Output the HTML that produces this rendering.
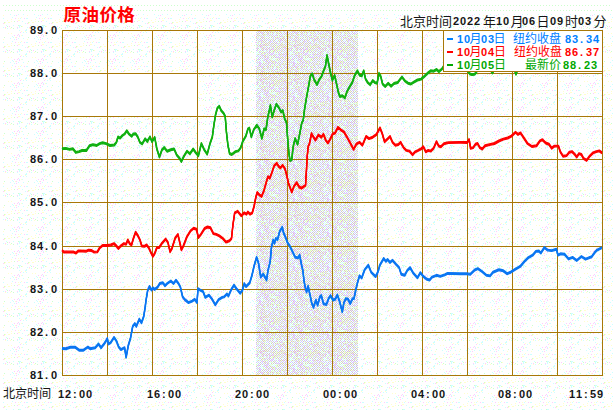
<!DOCTYPE html>
<html><head><meta charset="utf-8"><title>原油价格</title>
<style>html,body{margin:0;padding:0;overflow:hidden;background:#FCFDFB;font-family:"Liberation Sans",sans-serif}svg{display:block}</style></head>
<body>
<svg width="613" height="410" viewBox="0 0 613 410">
<defs><pattern id="dbg" width="24" height="24" patternUnits="userSpaceOnUse"><rect width="24" height="24" fill="#fff"/><path fill="#FFFFCC" d="M10 4h1v1h-1zM7 20h1v1h-1zM18 18h1v1h-1zM1 7h1v1h-1zM18 20h1v1h-1zM22 2h1v1h-1zM21 17h1v1h-1zM11 9h1v1h-1zM5 22h1v1h-1zM15 13h1v1h-1zM9 22h1v1h-1zM21 11h1v1h-1zM4 23h1v1h-1zM8 22h1v1h-1zM11 21h1v1h-1zM5 4h1v1h-1zM21 7h1v1h-1zM8 9h1v1h-1zM19 20h1v1h-1zM3 15h1v1h-1zM11 19h1v1h-1z"/><path fill="#CCFFFF" d="M20 1h1v1h-1zM6 1h1v1h-1zM13 13h1v1h-1zM13 1h1v1h-1zM17 4h1v1h-1zM3 18h1v1h-1zM19 6h1v1h-1zM10 14h1v1h-1zM2 18h1v1h-1zM23 14h1v1h-1zM19 2h1v1h-1zM22 11h1v1h-1zM18 14h1v1h-1zM2 8h1v1h-1zM22 21h1v1h-1zM1 23h1v1h-1zM20 18h1v1h-1zM19 3h1v1h-1zM1 6h1v1h-1zM12 12h1v1h-1zM2 5h1v1h-1zM12 17h1v1h-1zM7 4h1v1h-1zM2 6h1v1h-1zM19 1h1v1h-1zM19 11h1v1h-1zM3 3h1v1h-1zM14 15h1v1h-1zM23 8h1v1h-1z"/><path fill="#FFCCFF" d="M17 3h1v1h-1zM17 21h1v1h-1zM16 15h1v1h-1zM16 13h1v1h-1zM18 10h1v1h-1zM14 11h1v1h-1zM15 18h1v1h-1zM17 11h1v1h-1zM5 3h1v1h-1zM0 18h1v1h-1zM19 12h1v1h-1zM20 8h1v1h-1zM9 2h1v1h-1zM3 23h1v1h-1z"/><path fill="#CCFFCC" d="M18 1h1v1h-1zM7 2h1v1h-1zM13 4h1v1h-1zM11 3h1v1h-1zM21 2h1v1h-1zM4 13h1v1h-1zM4 22h1v1h-1zM14 21h1v1h-1z"/></pattern><pattern id="dsh" x="256" y="31" width="34" height="34" patternUnits="userSpaceOnUse" shape-rendering="crispEdges"><rect width="34" height="34" fill="#fff"/><path fill="#CCFFCC" d="M1 0h1v1h-1zM5 0h1v1h-1zM15 0h1v1h-1zM18 1h1v1h-1zM22 1h1v1h-1zM13 2h1v1h-1zM22 3h1v1h-1zM9 4h1v1h-1zM29 4h1v1h-1zM33 4h1v1h-1zM1 6h1v1h-1zM9 6h1v1h-1zM11 6h1v1h-1zM16 7h1v1h-1zM32 9h1v1h-1zM1 12h1v1h-1zM7 12h1v1h-1zM20 13h1v1h-1zM31 14h1v1h-1zM8 15h1v1h-1zM20 15h1v1h-1zM24 15h1v1h-1zM32 15h1v1h-1zM18 17h1v1h-1zM3 18h1v1h-1zM2 19h1v1h-1zM16 19h1v1h-1zM22 19h1v1h-1zM32 19h1v1h-1zM1 20h1v1h-1zM5 20h1v1h-1zM7 20h1v1h-1zM15 20h1v1h-1zM19 20h1v1h-1zM2 21h1v1h-1zM16 21h1v1h-1zM32 21h1v1h-1zM7 22h1v1h-1zM31 22h1v1h-1zM10 23h1v1h-1zM21 24h1v1h-1zM16 25h1v1h-1zM30 25h1v1h-1zM1 26h1v1h-1zM13 26h1v1h-1zM0 27h1v1h-1zM16 27h1v1h-1zM22 27h1v1h-1zM19 28h1v1h-1zM2 29h1v1h-1zM6 29h1v1h-1zM20 29h1v1h-1zM7 30h1v1h-1zM8 31h1v1h-1zM18 31h1v1h-1zM28 31h1v1h-1zM13 32h1v1h-1zM33 32h1v1h-1zM2 33h1v1h-1zM16 33h1v1h-1zM20 33h1v1h-1zM28 33h1v1h-1z"/><path fill="#FFCCFF" d="M2 0h1v1h-1zM4 0h1v1h-1zM14 0h1v1h-1zM24 0h1v1h-1zM28 0h1v1h-1zM5 1h1v1h-1zM17 1h1v1h-1zM6 2h1v1h-1zM12 2h1v1h-1zM30 2h1v1h-1zM20 4h1v1h-1zM25 5h1v1h-1zM0 6h1v1h-1zM6 6h1v1h-1zM17 7h1v1h-1zM21 7h1v1h-1zM27 7h1v1h-1zM24 8h1v1h-1zM5 9h1v1h-1zM25 9h1v1h-1zM14 10h1v1h-1zM24 10h1v1h-1zM5 11h1v1h-1zM20 12h1v1h-1zM7 13h1v1h-1zM4 14h1v1h-1zM8 14h1v1h-1zM24 14h1v1h-1zM5 15h1v1h-1zM4 16h1v1h-1zM28 16h1v1h-1zM1 17h1v1h-1zM7 17h1v1h-1zM13 17h1v1h-1zM17 17h1v1h-1zM29 17h1v1h-1zM10 18h1v1h-1zM14 18h1v1h-1zM16 18h1v1h-1zM32 18h1v1h-1zM1 19h1v1h-1zM7 19h1v1h-1zM13 19h1v1h-1zM18 20h1v1h-1zM32 20h1v1h-1zM3 21h1v1h-1zM13 21h1v1h-1zM17 21h1v1h-1zM31 21h1v1h-1zM8 22h1v1h-1zM16 22h1v1h-1zM30 22h1v1h-1zM15 23h1v1h-1zM23 23h1v1h-1zM27 23h1v1h-1zM6 24h1v1h-1zM30 24h1v1h-1zM9 25h1v1h-1zM29 25h1v1h-1zM12 26h1v1h-1zM20 26h1v1h-1zM22 26h1v1h-1zM11 27h1v1h-1zM23 27h1v1h-1zM2 28h1v1h-1zM8 28h1v1h-1zM10 28h1v1h-1zM32 28h1v1h-1zM7 29h1v1h-1zM10 30h1v1h-1zM3 31h1v1h-1zM13 31h1v1h-1zM19 31h1v1h-1zM33 31h1v1h-1zM4 32h1v1h-1zM12 32h1v1h-1zM16 32h1v1h-1zM3 33h1v1h-1zM29 33h1v1h-1zM33 33h1v1h-1z"/><path fill="#CCCCFF" d="M3 0h1v1h-1zM7 0h1v1h-1zM9 0h1v1h-1zM13 0h1v1h-1zM19 0h1v1h-1zM21 0h1v1h-1zM27 0h1v1h-1zM31 0h1v1h-1zM33 0h1v1h-1zM0 1h1v1h-1zM2 1h1v1h-1zM6 1h1v1h-1zM30 1h1v1h-1zM32 1h1v1h-1zM5 2h1v1h-1zM17 2h1v1h-1zM27 2h1v1h-1zM31 2h1v1h-1zM0 3h1v1h-1zM2 3h1v1h-1zM10 3h1v1h-1zM12 3h1v1h-1zM14 3h1v1h-1zM20 3h1v1h-1zM24 3h1v1h-1zM26 3h1v1h-1zM30 3h1v1h-1zM5 4h1v1h-1zM11 4h1v1h-1zM15 4h1v1h-1zM17 4h1v1h-1zM19 4h1v1h-1zM25 4h1v1h-1zM2 5h1v1h-1zM4 5h1v1h-1zM6 5h1v1h-1zM8 5h1v1h-1zM10 5h1v1h-1zM12 5h1v1h-1zM26 5h1v1h-1zM32 5h1v1h-1zM17 6h1v1h-1zM23 6h1v1h-1zM0 7h1v1h-1zM2 7h1v1h-1zM20 7h1v1h-1zM22 7h1v1h-1zM30 7h1v1h-1zM32 7h1v1h-1zM1 8h1v1h-1zM3 8h1v1h-1zM5 8h1v1h-1zM7 8h1v1h-1zM9 8h1v1h-1zM11 8h1v1h-1zM13 8h1v1h-1zM15 8h1v1h-1zM17 8h1v1h-1zM23 8h1v1h-1zM31 8h1v1h-1zM33 8h1v1h-1zM2 9h1v1h-1zM4 9h1v1h-1zM12 9h1v1h-1zM16 9h1v1h-1zM24 9h1v1h-1zM30 9h1v1h-1zM5 10h1v1h-1zM15 10h1v1h-1zM19 10h1v1h-1zM21 10h1v1h-1zM27 10h1v1h-1zM33 10h1v1h-1zM0 11h1v1h-1zM2 11h1v1h-1zM6 11h1v1h-1zM10 11h1v1h-1zM14 11h1v1h-1zM16 11h1v1h-1zM24 11h1v1h-1zM28 11h1v1h-1zM30 11h1v1h-1zM21 12h1v1h-1zM23 12h1v1h-1zM29 12h1v1h-1zM0 13h1v1h-1zM2 13h1v1h-1zM6 13h1v1h-1zM14 13h1v1h-1zM16 13h1v1h-1zM22 13h1v1h-1zM30 13h1v1h-1zM13 14h1v1h-1zM15 14h1v1h-1zM21 14h1v1h-1zM27 14h1v1h-1zM2 15h1v1h-1zM6 15h1v1h-1zM10 15h1v1h-1zM14 15h1v1h-1zM26 15h1v1h-1zM1 16h1v1h-1zM5 16h1v1h-1zM9 16h1v1h-1zM15 16h1v1h-1zM33 16h1v1h-1zM0 17h1v1h-1zM8 17h1v1h-1zM16 17h1v1h-1zM26 17h1v1h-1zM28 17h1v1h-1zM5 18h1v1h-1zM13 18h1v1h-1zM17 18h1v1h-1zM21 18h1v1h-1zM23 18h1v1h-1zM25 18h1v1h-1zM29 18h1v1h-1zM31 18h1v1h-1zM0 19h1v1h-1zM4 19h1v1h-1zM10 19h1v1h-1zM20 19h1v1h-1zM24 19h1v1h-1zM26 19h1v1h-1zM30 19h1v1h-1zM3 20h1v1h-1zM11 20h1v1h-1zM23 20h1v1h-1zM27 20h1v1h-1zM29 20h1v1h-1zM33 20h1v1h-1zM4 21h1v1h-1zM10 21h1v1h-1zM12 21h1v1h-1zM9 22h1v1h-1zM15 22h1v1h-1zM17 22h1v1h-1zM23 22h1v1h-1zM27 22h1v1h-1zM33 22h1v1h-1zM4 23h1v1h-1zM6 23h1v1h-1zM8 23h1v1h-1zM12 23h1v1h-1zM14 23h1v1h-1zM16 23h1v1h-1zM18 23h1v1h-1zM20 23h1v1h-1zM22 23h1v1h-1zM1 24h1v1h-1zM5 24h1v1h-1zM11 24h1v1h-1zM15 24h1v1h-1zM19 24h1v1h-1zM23 24h1v1h-1zM25 24h1v1h-1zM27 24h1v1h-1zM29 24h1v1h-1zM31 24h1v1h-1zM33 24h1v1h-1zM0 25h1v1h-1zM2 25h1v1h-1zM6 25h1v1h-1zM10 25h1v1h-1zM12 25h1v1h-1zM20 25h1v1h-1zM22 25h1v1h-1zM24 25h1v1h-1zM28 25h1v1h-1zM32 25h1v1h-1zM3 26h1v1h-1zM5 26h1v1h-1zM7 26h1v1h-1zM21 26h1v1h-1zM23 26h1v1h-1zM2 27h1v1h-1zM8 27h1v1h-1zM10 27h1v1h-1zM12 27h1v1h-1zM28 27h1v1h-1zM1 28h1v1h-1zM11 28h1v1h-1zM25 28h1v1h-1zM33 28h1v1h-1zM4 29h1v1h-1zM8 29h1v1h-1zM12 29h1v1h-1zM16 29h1v1h-1zM18 29h1v1h-1zM26 29h1v1h-1zM28 29h1v1h-1zM30 29h1v1h-1zM1 30h1v1h-1zM3 30h1v1h-1zM9 30h1v1h-1zM13 30h1v1h-1zM19 30h1v1h-1zM23 30h1v1h-1zM25 30h1v1h-1zM31 30h1v1h-1zM0 31h1v1h-1zM2 31h1v1h-1zM4 31h1v1h-1zM10 31h1v1h-1zM14 31h1v1h-1zM20 31h1v1h-1zM26 31h1v1h-1zM30 31h1v1h-1zM1 32h1v1h-1zM5 32h1v1h-1zM11 32h1v1h-1zM17 32h1v1h-1zM19 32h1v1h-1zM25 32h1v1h-1zM31 32h1v1h-1zM4 33h1v1h-1zM10 33h1v1h-1zM14 33h1v1h-1zM22 33h1v1h-1zM24 33h1v1h-1z"/><path fill="#CCCCCC" d="M11 0h1v1h-1zM23 0h1v1h-1zM4 1h1v1h-1zM8 1h1v1h-1zM10 1h1v1h-1zM12 1h1v1h-1zM14 1h1v1h-1zM16 1h1v1h-1zM20 1h1v1h-1zM24 1h1v1h-1zM28 1h1v1h-1zM1 2h1v1h-1zM3 2h1v1h-1zM7 2h1v1h-1zM11 2h1v1h-1zM21 2h1v1h-1zM23 2h1v1h-1zM25 2h1v1h-1zM29 2h1v1h-1zM33 2h1v1h-1zM6 3h1v1h-1zM8 3h1v1h-1zM16 3h1v1h-1zM28 3h1v1h-1zM32 3h1v1h-1zM1 4h1v1h-1zM3 4h1v1h-1zM7 4h1v1h-1zM13 4h1v1h-1zM21 4h1v1h-1zM23 4h1v1h-1zM0 5h1v1h-1zM16 5h1v1h-1zM18 5h1v1h-1zM24 5h1v1h-1zM28 5h1v1h-1zM30 5h1v1h-1zM5 6h1v1h-1zM7 6h1v1h-1zM13 6h1v1h-1zM15 6h1v1h-1zM19 6h1v1h-1zM21 6h1v1h-1zM27 6h1v1h-1zM31 6h1v1h-1zM33 6h1v1h-1zM4 7h1v1h-1zM6 7h1v1h-1zM8 7h1v1h-1zM10 7h1v1h-1zM12 7h1v1h-1zM24 7h1v1h-1zM26 7h1v1h-1zM28 7h1v1h-1zM19 8h1v1h-1zM25 8h1v1h-1zM27 8h1v1h-1zM29 8h1v1h-1zM0 9h1v1h-1zM6 9h1v1h-1zM8 9h1v1h-1zM10 9h1v1h-1zM14 9h1v1h-1zM18 9h1v1h-1zM22 9h1v1h-1zM26 9h1v1h-1zM28 9h1v1h-1zM3 10h1v1h-1zM7 10h1v1h-1zM9 10h1v1h-1zM13 10h1v1h-1zM17 10h1v1h-1zM23 10h1v1h-1zM29 10h1v1h-1zM31 10h1v1h-1zM8 11h1v1h-1zM12 11h1v1h-1zM18 11h1v1h-1zM20 11h1v1h-1zM26 11h1v1h-1zM32 11h1v1h-1zM5 12h1v1h-1zM9 12h1v1h-1zM11 12h1v1h-1zM13 12h1v1h-1zM15 12h1v1h-1zM17 12h1v1h-1zM19 12h1v1h-1zM25 12h1v1h-1zM31 12h1v1h-1zM33 12h1v1h-1zM4 13h1v1h-1zM8 13h1v1h-1zM10 13h1v1h-1zM12 13h1v1h-1zM18 13h1v1h-1zM24 13h1v1h-1zM26 13h1v1h-1zM28 13h1v1h-1zM32 13h1v1h-1zM1 14h1v1h-1zM3 14h1v1h-1zM5 14h1v1h-1zM7 14h1v1h-1zM9 14h1v1h-1zM11 14h1v1h-1zM17 14h1v1h-1zM19 14h1v1h-1zM23 14h1v1h-1zM25 14h1v1h-1zM29 14h1v1h-1zM33 14h1v1h-1zM4 15h1v1h-1zM16 15h1v1h-1zM18 15h1v1h-1zM22 15h1v1h-1zM28 15h1v1h-1zM30 15h1v1h-1zM7 16h1v1h-1zM11 16h1v1h-1zM13 16h1v1h-1zM17 16h1v1h-1zM19 16h1v1h-1zM21 16h1v1h-1zM23 16h1v1h-1zM25 16h1v1h-1zM27 16h1v1h-1zM29 16h1v1h-1zM31 16h1v1h-1zM2 17h1v1h-1zM6 17h1v1h-1zM10 17h1v1h-1zM12 17h1v1h-1zM20 17h1v1h-1zM22 17h1v1h-1zM24 17h1v1h-1zM30 17h1v1h-1zM32 17h1v1h-1zM1 18h1v1h-1zM7 18h1v1h-1zM9 18h1v1h-1zM11 18h1v1h-1zM15 18h1v1h-1zM19 18h1v1h-1zM27 18h1v1h-1zM33 18h1v1h-1zM6 19h1v1h-1zM14 19h1v1h-1zM18 19h1v1h-1zM28 19h1v1h-1zM13 20h1v1h-1zM17 20h1v1h-1zM21 20h1v1h-1zM25 20h1v1h-1zM31 20h1v1h-1zM6 21h1v1h-1zM8 21h1v1h-1zM14 21h1v1h-1zM20 21h1v1h-1zM22 21h1v1h-1zM24 21h1v1h-1zM28 21h1v1h-1zM30 21h1v1h-1zM5 22h1v1h-1zM11 22h1v1h-1zM13 22h1v1h-1zM25 22h1v1h-1zM29 22h1v1h-1zM2 23h1v1h-1zM24 23h1v1h-1zM26 23h1v1h-1zM28 23h1v1h-1zM30 23h1v1h-1zM32 23h1v1h-1zM7 24h1v1h-1zM9 24h1v1h-1zM13 24h1v1h-1zM17 24h1v1h-1zM4 25h1v1h-1zM8 25h1v1h-1zM18 25h1v1h-1zM26 25h1v1h-1zM9 26h1v1h-1zM11 26h1v1h-1zM15 26h1v1h-1zM17 26h1v1h-1zM19 26h1v1h-1zM25 26h1v1h-1zM27 26h1v1h-1zM29 26h1v1h-1zM31 26h1v1h-1zM33 26h1v1h-1zM4 27h1v1h-1zM6 27h1v1h-1zM24 27h1v1h-1zM26 27h1v1h-1zM30 27h1v1h-1zM32 27h1v1h-1zM3 28h1v1h-1zM9 28h1v1h-1zM13 28h1v1h-1zM21 28h1v1h-1zM23 28h1v1h-1zM27 28h1v1h-1zM29 28h1v1h-1zM0 29h1v1h-1zM10 29h1v1h-1zM14 29h1v1h-1zM22 29h1v1h-1zM24 29h1v1h-1zM32 29h1v1h-1zM11 30h1v1h-1zM15 30h1v1h-1zM17 30h1v1h-1zM27 30h1v1h-1zM29 30h1v1h-1zM33 30h1v1h-1zM12 31h1v1h-1zM16 31h1v1h-1zM22 31h1v1h-1zM24 31h1v1h-1zM32 31h1v1h-1zM3 32h1v1h-1zM7 32h1v1h-1zM9 32h1v1h-1zM15 32h1v1h-1zM21 32h1v1h-1zM23 32h1v1h-1zM27 32h1v1h-1zM29 32h1v1h-1zM6 33h1v1h-1zM8 33h1v1h-1zM12 33h1v1h-1zM18 33h1v1h-1zM26 33h1v1h-1zM30 33h1v1h-1zM32 33h1v1h-1z"/><path fill="#FFFFCC" d="M16 0h1v1h-1zM18 0h1v1h-1zM7 1h1v1h-1zM11 1h1v1h-1zM15 1h1v1h-1zM21 1h1v1h-1zM25 1h1v1h-1zM2 2h1v1h-1zM14 2h1v1h-1zM16 2h1v1h-1zM20 2h1v1h-1zM22 2h1v1h-1zM1 3h1v1h-1zM7 3h1v1h-1zM9 3h1v1h-1zM11 3h1v1h-1zM31 3h1v1h-1zM33 3h1v1h-1zM2 4h1v1h-1zM4 4h1v1h-1zM8 4h1v1h-1zM14 4h1v1h-1zM26 4h1v1h-1zM30 4h1v1h-1zM32 4h1v1h-1zM5 5h1v1h-1zM15 5h1v1h-1zM21 5h1v1h-1zM23 5h1v1h-1zM27 5h1v1h-1zM31 5h1v1h-1zM33 5h1v1h-1zM2 6h1v1h-1zM8 6h1v1h-1zM20 6h1v1h-1zM22 6h1v1h-1zM26 6h1v1h-1zM28 6h1v1h-1zM32 6h1v1h-1zM1 7h1v1h-1zM19 7h1v1h-1zM25 7h1v1h-1zM31 7h1v1h-1zM4 8h1v1h-1zM8 8h1v1h-1zM14 8h1v1h-1zM16 8h1v1h-1zM22 8h1v1h-1zM17 9h1v1h-1zM23 9h1v1h-1zM29 9h1v1h-1zM33 9h1v1h-1zM2 10h1v1h-1zM4 10h1v1h-1zM6 10h1v1h-1zM30 10h1v1h-1zM1 11h1v1h-1zM7 11h1v1h-1zM13 11h1v1h-1zM23 11h1v1h-1zM29 11h1v1h-1zM33 11h1v1h-1zM2 12h1v1h-1zM4 12h1v1h-1zM10 12h1v1h-1zM16 12h1v1h-1zM22 12h1v1h-1zM26 12h1v1h-1zM9 13h1v1h-1zM15 13h1v1h-1zM25 13h1v1h-1zM27 13h1v1h-1zM33 13h1v1h-1zM0 14h1v1h-1zM6 14h1v1h-1zM10 14h1v1h-1zM12 14h1v1h-1zM14 14h1v1h-1zM20 14h1v1h-1zM26 14h1v1h-1zM1 15h1v1h-1zM3 15h1v1h-1zM15 15h1v1h-1zM17 15h1v1h-1zM21 15h1v1h-1zM23 15h1v1h-1zM25 15h1v1h-1zM27 15h1v1h-1zM29 15h1v1h-1zM0 16h1v1h-1zM6 16h1v1h-1zM8 16h1v1h-1zM20 16h1v1h-1zM26 16h1v1h-1zM5 17h1v1h-1zM15 17h1v1h-1zM23 17h1v1h-1zM33 17h1v1h-1zM6 18h1v1h-1zM18 18h1v1h-1zM20 18h1v1h-1zM22 18h1v1h-1zM26 18h1v1h-1zM30 18h1v1h-1zM11 19h1v1h-1zM17 19h1v1h-1zM19 19h1v1h-1zM21 19h1v1h-1zM23 19h1v1h-1zM25 19h1v1h-1zM33 19h1v1h-1zM4 20h1v1h-1zM10 20h1v1h-1zM16 20h1v1h-1zM26 20h1v1h-1zM30 20h1v1h-1zM7 21h1v1h-1zM9 21h1v1h-1zM19 21h1v1h-1zM6 22h1v1h-1zM22 22h1v1h-1zM32 22h1v1h-1zM1 23h1v1h-1zM3 23h1v1h-1zM5 23h1v1h-1zM9 23h1v1h-1zM11 23h1v1h-1zM19 23h1v1h-1zM25 23h1v1h-1zM8 24h1v1h-1zM14 24h1v1h-1zM18 24h1v1h-1zM24 24h1v1h-1zM11 25h1v1h-1zM15 25h1v1h-1zM31 25h1v1h-1zM8 26h1v1h-1zM24 26h1v1h-1zM26 26h1v1h-1zM32 26h1v1h-1zM15 27h1v1h-1zM21 27h1v1h-1zM29 27h1v1h-1zM0 28h1v1h-1zM14 28h1v1h-1zM20 28h1v1h-1zM11 29h1v1h-1zM15 29h1v1h-1zM21 29h1v1h-1zM16 30h1v1h-1zM18 30h1v1h-1zM20 30h1v1h-1zM28 30h1v1h-1zM1 31h1v1h-1zM7 31h1v1h-1zM17 31h1v1h-1zM10 32h1v1h-1zM18 32h1v1h-1zM26 32h1v1h-1zM23 33h1v1h-1zM25 33h1v1h-1zM27 33h1v1h-1z"/><path fill="#CCFFFF" d="M17 0h1v1h-1zM25 0h1v1h-1zM29 0h1v1h-1zM26 1h1v1h-1zM9 2h1v1h-1zM15 2h1v1h-1zM19 2h1v1h-1zM4 3h1v1h-1zM18 3h1v1h-1zM27 4h1v1h-1zM31 4h1v1h-1zM14 5h1v1h-1zM20 5h1v1h-1zM22 5h1v1h-1zM3 6h1v1h-1zM25 6h1v1h-1zM29 6h1v1h-1zM14 7h1v1h-1zM18 7h1v1h-1zM21 8h1v1h-1zM20 9h1v1h-1zM1 10h1v1h-1zM11 10h1v1h-1zM25 10h1v1h-1zM4 11h1v1h-1zM22 11h1v1h-1zM3 12h1v1h-1zM27 12h1v1h-1zM0 15h1v1h-1zM12 15h1v1h-1zM3 16h1v1h-1zM4 17h1v1h-1zM14 17h1v1h-1zM8 19h1v1h-1zM12 19h1v1h-1zM9 20h1v1h-1zM0 21h1v1h-1zM18 21h1v1h-1zM26 21h1v1h-1zM1 22h1v1h-1zM3 22h1v1h-1zM19 22h1v1h-1zM21 22h1v1h-1zM0 23h1v1h-1zM3 24h1v1h-1zM14 25h1v1h-1zM14 27h1v1h-1zM18 27h1v1h-1zM20 27h1v1h-1zM5 28h1v1h-1zM7 28h1v1h-1zM15 28h1v1h-1zM17 28h1v1h-1zM31 28h1v1h-1zM5 30h1v1h-1zM21 30h1v1h-1zM6 31h1v1h-1zM0 33h1v1h-1z"/></pattern></defs>
<rect width="613" height="410" fill="#FCFDFB"/>
<rect width="613" height="410" fill="url(#dbg)" shape-rendering="crispEdges"/>
<rect x="0" y="0" width="613" height="14" fill="#fff"/><rect x="0" y="0" width="3" height="410" fill="#fff"/>
<path fill="#CCFFCC" shape-rendering="crispEdges" d="M3 5h1v1h-1zM5 10h1v1h-1zM6 5h1v1h-1zM8 10h1v1h-1zM9 5h1v1h-1zM11 10h1v1h-1zM12 5h1v1h-1zM14 10h1v1h-1zM15 5h1v1h-1zM17 10h1v1h-1zM18 5h1v1h-1zM20 10h1v1h-1zM21 5h1v1h-1zM23 10h1v1h-1zM24 5h1v1h-1zM26 10h1v1h-1zM27 5h1v1h-1zM29 10h1v1h-1zM30 5h1v1h-1zM32 10h1v1h-1zM33 5h1v1h-1zM35 10h1v1h-1zM36 5h1v1h-1zM38 10h1v1h-1zM39 5h1v1h-1zM41 10h1v1h-1zM42 5h1v1h-1zM44 10h1v1h-1zM45 5h1v1h-1zM47 10h1v1h-1zM48 5h1v1h-1zM50 10h1v1h-1zM51 5h1v1h-1zM53 10h1v1h-1zM54 5h1v1h-1zM56 10h1v1h-1zM57 5h1v1h-1zM59 10h1v1h-1zM60 5h1v1h-1zM62 10h1v1h-1zM63 5h1v1h-1zM65 10h1v1h-1zM66 5h1v1h-1zM68 10h1v1h-1zM69 5h1v1h-1zM71 10h1v1h-1zM72 5h1v1h-1zM74 10h1v1h-1zM75 5h1v1h-1zM77 10h1v1h-1zM78 5h1v1h-1zM80 10h1v1h-1zM81 5h1v1h-1zM83 10h1v1h-1zM84 5h1v1h-1zM86 10h1v1h-1zM87 5h1v1h-1zM89 10h1v1h-1zM90 5h1v1h-1zM92 10h1v1h-1zM93 5h1v1h-1zM95 10h1v1h-1zM96 5h1v1h-1zM98 10h1v1h-1zM99 5h1v1h-1zM101 10h1v1h-1zM102 5h1v1h-1zM104 10h1v1h-1zM105 5h1v1h-1zM107 10h1v1h-1zM108 5h1v1h-1zM110 10h1v1h-1zM111 5h1v1h-1zM113 10h1v1h-1zM114 5h1v1h-1zM116 10h1v1h-1zM117 5h1v1h-1zM119 10h1v1h-1zM120 5h1v1h-1zM122 10h1v1h-1zM123 5h1v1h-1zM125 10h1v1h-1zM126 5h1v1h-1zM128 10h1v1h-1zM129 5h1v1h-1zM131 10h1v1h-1zM132 5h1v1h-1zM134 10h1v1h-1zM135 5h1v1h-1zM137 10h1v1h-1zM138 5h1v1h-1zM140 10h1v1h-1zM141 5h1v1h-1zM143 10h1v1h-1zM144 5h1v1h-1zM146 10h1v1h-1zM147 5h1v1h-1zM149 10h1v1h-1zM150 5h1v1h-1zM152 10h1v1h-1zM153 5h1v1h-1zM155 10h1v1h-1zM156 5h1v1h-1zM158 10h1v1h-1zM159 5h1v1h-1zM161 10h1v1h-1zM162 5h1v1h-1zM164 10h1v1h-1zM165 5h1v1h-1zM167 10h1v1h-1zM168 5h1v1h-1zM170 10h1v1h-1zM171 5h1v1h-1zM173 10h1v1h-1zM174 5h1v1h-1zM176 10h1v1h-1zM177 5h1v1h-1zM179 10h1v1h-1zM180 5h1v1h-1zM182 10h1v1h-1zM183 5h1v1h-1zM185 10h1v1h-1zM186 5h1v1h-1zM188 10h1v1h-1zM189 5h1v1h-1zM191 10h1v1h-1zM192 5h1v1h-1zM194 10h1v1h-1zM195 5h1v1h-1zM197 10h1v1h-1zM198 5h1v1h-1zM200 10h1v1h-1zM201 5h1v1h-1zM203 10h1v1h-1zM204 5h1v1h-1zM206 10h1v1h-1zM207 5h1v1h-1zM209 10h1v1h-1zM210 5h1v1h-1zM212 10h1v1h-1zM213 5h1v1h-1zM215 10h1v1h-1zM216 5h1v1h-1zM218 10h1v1h-1zM219 5h1v1h-1zM221 10h1v1h-1zM222 5h1v1h-1zM224 10h1v1h-1zM225 5h1v1h-1zM227 10h1v1h-1zM228 5h1v1h-1zM230 10h1v1h-1zM231 5h1v1h-1zM233 10h1v1h-1zM234 5h1v1h-1zM236 10h1v1h-1zM237 5h1v1h-1zM239 10h1v1h-1zM240 5h1v1h-1zM242 10h1v1h-1zM243 5h1v1h-1zM245 10h1v1h-1zM246 5h1v1h-1zM248 10h1v1h-1zM249 5h1v1h-1zM251 10h1v1h-1zM252 5h1v1h-1zM254 10h1v1h-1zM255 5h1v1h-1zM257 10h1v1h-1zM258 5h1v1h-1zM260 10h1v1h-1zM261 5h1v1h-1zM263 10h1v1h-1zM264 5h1v1h-1zM266 10h1v1h-1zM267 5h1v1h-1zM269 10h1v1h-1zM270 5h1v1h-1zM272 10h1v1h-1zM273 5h1v1h-1zM275 10h1v1h-1zM276 5h1v1h-1zM278 10h1v1h-1zM279 5h1v1h-1zM281 10h1v1h-1zM282 5h1v1h-1zM284 10h1v1h-1zM285 5h1v1h-1zM287 10h1v1h-1zM288 5h1v1h-1zM290 10h1v1h-1zM291 5h1v1h-1zM293 10h1v1h-1zM294 5h1v1h-1zM296 10h1v1h-1zM297 5h1v1h-1zM299 10h1v1h-1zM300 5h1v1h-1zM302 10h1v1h-1zM303 5h1v1h-1zM305 10h1v1h-1zM306 5h1v1h-1zM308 10h1v1h-1zM309 5h1v1h-1zM311 10h1v1h-1zM312 5h1v1h-1zM314 10h1v1h-1zM315 5h1v1h-1zM317 10h1v1h-1zM318 5h1v1h-1zM320 10h1v1h-1zM321 5h1v1h-1zM323 10h1v1h-1zM324 5h1v1h-1zM326 10h1v1h-1zM327 5h1v1h-1zM329 10h1v1h-1zM330 5h1v1h-1zM332 10h1v1h-1zM333 5h1v1h-1zM335 10h1v1h-1zM336 5h1v1h-1zM338 10h1v1h-1zM339 5h1v1h-1zM341 10h1v1h-1zM342 5h1v1h-1zM344 10h1v1h-1zM345 5h1v1h-1zM347 10h1v1h-1zM348 5h1v1h-1zM350 10h1v1h-1zM351 5h1v1h-1zM353 10h1v1h-1zM354 5h1v1h-1zM356 10h1v1h-1zM357 5h1v1h-1zM359 10h1v1h-1zM360 5h1v1h-1zM362 10h1v1h-1zM363 5h1v1h-1zM365 10h1v1h-1zM366 5h1v1h-1zM368 10h1v1h-1zM369 5h1v1h-1zM371 10h1v1h-1zM372 5h1v1h-1zM374 10h1v1h-1zM375 5h1v1h-1zM377 10h1v1h-1zM378 5h1v1h-1zM380 10h1v1h-1zM381 5h1v1h-1zM383 10h1v1h-1zM384 5h1v1h-1zM386 10h1v1h-1zM387 5h1v1h-1zM389 10h1v1h-1zM390 5h1v1h-1zM392 10h1v1h-1zM393 5h1v1h-1zM395 10h1v1h-1zM396 5h1v1h-1zM398 10h1v1h-1zM399 5h1v1h-1zM401 10h1v1h-1zM402 5h1v1h-1zM404 10h1v1h-1zM405 5h1v1h-1zM407 10h1v1h-1zM408 5h1v1h-1zM410 10h1v1h-1zM411 5h1v1h-1zM413 10h1v1h-1zM414 5h1v1h-1zM416 10h1v1h-1zM417 5h1v1h-1zM419 10h1v1h-1zM420 5h1v1h-1zM422 10h1v1h-1zM423 5h1v1h-1zM425 10h1v1h-1zM426 5h1v1h-1zM428 10h1v1h-1zM429 5h1v1h-1zM431 10h1v1h-1zM432 5h1v1h-1zM434 10h1v1h-1zM435 5h1v1h-1zM437 10h1v1h-1zM438 5h1v1h-1zM440 10h1v1h-1zM441 5h1v1h-1zM443 10h1v1h-1zM444 5h1v1h-1zM446 10h1v1h-1zM447 5h1v1h-1zM449 10h1v1h-1zM450 5h1v1h-1zM452 10h1v1h-1zM453 5h1v1h-1zM455 10h1v1h-1zM456 5h1v1h-1zM458 10h1v1h-1zM459 5h1v1h-1zM461 10h1v1h-1zM462 5h1v1h-1zM464 10h1v1h-1zM465 5h1v1h-1zM467 10h1v1h-1zM468 5h1v1h-1zM470 10h1v1h-1zM471 5h1v1h-1zM473 10h1v1h-1zM474 5h1v1h-1zM476 10h1v1h-1zM477 5h1v1h-1zM479 10h1v1h-1zM480 5h1v1h-1zM482 10h1v1h-1zM483 5h1v1h-1zM485 10h1v1h-1zM486 5h1v1h-1zM488 10h1v1h-1zM489 5h1v1h-1zM491 10h1v1h-1zM492 5h1v1h-1zM494 10h1v1h-1zM495 5h1v1h-1zM497 10h1v1h-1zM498 5h1v1h-1zM500 10h1v1h-1zM501 5h1v1h-1zM503 10h1v1h-1zM504 5h1v1h-1zM506 10h1v1h-1zM507 5h1v1h-1zM509 10h1v1h-1zM510 5h1v1h-1zM512 10h1v1h-1zM513 5h1v1h-1zM515 10h1v1h-1zM516 5h1v1h-1zM518 10h1v1h-1zM519 5h1v1h-1zM521 10h1v1h-1zM522 5h1v1h-1zM524 10h1v1h-1zM525 5h1v1h-1zM527 10h1v1h-1zM528 5h1v1h-1zM530 10h1v1h-1zM531 5h1v1h-1zM533 10h1v1h-1zM534 5h1v1h-1zM536 10h1v1h-1zM537 5h1v1h-1zM539 10h1v1h-1zM540 5h1v1h-1zM542 10h1v1h-1zM543 5h1v1h-1zM545 10h1v1h-1zM546 5h1v1h-1zM548 10h1v1h-1zM549 5h1v1h-1zM551 10h1v1h-1zM552 5h1v1h-1zM554 10h1v1h-1zM555 5h1v1h-1zM557 10h1v1h-1zM558 5h1v1h-1zM560 10h1v1h-1zM561 5h1v1h-1zM563 10h1v1h-1zM564 5h1v1h-1zM566 10h1v1h-1zM567 5h1v1h-1zM569 10h1v1h-1zM570 5h1v1h-1zM572 10h1v1h-1zM573 5h1v1h-1zM575 10h1v1h-1zM576 5h1v1h-1zM578 10h1v1h-1zM579 5h1v1h-1zM581 10h1v1h-1zM582 5h1v1h-1zM584 10h1v1h-1zM585 5h1v1h-1zM587 10h1v1h-1zM588 5h1v1h-1zM590 10h1v1h-1zM591 5h1v1h-1zM593 10h1v1h-1zM594 5h1v1h-1zM596 10h1v1h-1zM597 5h1v1h-1zM599 10h1v1h-1zM600 5h1v1h-1zM602 10h1v1h-1zM603 5h1v1h-1zM605 10h1v1h-1zM606 5h1v1h-1zM608 10h1v1h-1zM609 5h1v1h-1zM611 10h1v1h-1z"/>
<rect x="256" y="31" width="102" height="344" fill="#E6E5E8"/>
<rect x="256" y="31" width="102" height="344" fill="url(#dsh)" shape-rendering="crispEdges"/>
<rect x="63" y="74" width="134" height="42" fill="#fff"/>
<path fill="#A87808" shape-rendering="crispEdges" d="M62 30h541v1h-541zM62 73h541v1h-541zM62 116h541v1h-541zM62 159h541v1h-541zM62 202h541v1h-541zM62 246h541v1h-541zM62 289h541v1h-541zM62 332h541v1h-541zM62 375h541v1h-541zM62 30h1v346h-1zM107 30h1v346h-1zM152 30h1v346h-1zM197 30h1v346h-1zM242 30h1v346h-1zM287 30h1v346h-1zM332 30h1v346h-1zM377 30h1v346h-1zM422 30h1v346h-1zM467 30h1v346h-1zM512 30h1v346h-1zM557 30h1v346h-1zM602 30h1v346h-1z"/>
<defs><polyline id="cg" fill="none" stroke="#10B010" stroke-width="1.35" stroke-linejoin="round" stroke-linecap="butt" points="62.0,148.7 65.9,148.4 69.5,149.4 72.9,148.7 75.9,152.4 79.1,151.6 82.0,150.5 86.4,150.5 89.4,145.8 93.0,144.6 96.7,145.5 99.6,143.6 102.6,142.8 106.2,143.6 109.9,145.5 114.3,145.0 116.5,142.1 118.0,137.0 120.2,138.1 122.4,135.5 124.6,134.0 126.8,130.8 129.0,134.0 131.6,136.2 133.4,134.0 135.6,133.7 137.8,137.0 140.0,142.5 142.2,143.9 145.1,138.8 147.3,141.5 150.0,136.8 152.0,141.7 154.7,137.3 156.9,149.0 159.4,157.1 162.0,149.8 164.2,147.6 167.2,151.2 170.8,149.8 174.1,149.0 176.7,154.9 179.3,157.9 181.4,161.5 183.8,156.4 187.0,151.2 189.9,153.7 193.2,149.0 195.8,152.7 198.4,155.7 201.4,143.5 204.3,149.8 207.2,154.2 209.7,144.6 212.3,137.0 213.8,125.9 215.5,115.0 217.4,108.0 219.3,106.2 221.2,110.6 223.8,113.6 225.2,116.4 226.4,131.8 227.9,145.0 229.6,153.5 231.8,154.5 235.5,151.6 238.4,150.9 240.6,147.9 242.8,141.3 245.8,136.2 248.0,128.8 249.4,128.1 251.3,136.9 253.8,129.6 256.8,125.2 259.3,128.8 261.9,138.4 264.1,128.8 266.0,129.6 267.8,117.1 269.3,110.5 270.4,105.3 272.2,117.1 274.4,109.7 276.3,104.2 278.8,107.5 281.0,111.9 282.8,110.5 284.6,118.5 286.5,122.7 287.6,137.8 288.8,152.4 290.0,160.5 291.7,159.8 293.2,146.6 295.1,138.5 297.6,144.4 299.8,133.4 301.7,123.1 303.2,120.2 304.6,109.0 306.7,96.5 308.5,86.9 310.4,75.9 312.3,73.7 314.1,79.6 317.0,84.7 319.2,79.6 321.4,76.6 323.6,70.8 325.4,66.4 327.0,55.3 328.5,62.7 330.2,71.5 332.4,80.3 334.6,75.2 336.4,83.2 338.3,92.0 339.8,96.5 342.3,95.7 344.9,97.9 347.1,91.3 349.6,86.9 352.3,82.5 354.5,75.9 357.4,70.8 359.6,75.2 361.8,75.9 363.7,70.8 365.5,78.8 367.7,82.5 370.2,84.7 372.8,80.5 375.0,82.6 377.1,83.2 379.0,73.3 380.8,76.6 382.6,84.0 385.2,86.5 388.2,83.2 391.1,86.2 394.0,83.5 397.7,82.5 399.9,79.6 402.1,77.1 405.0,81.0 408.0,83.2 410.9,84.0 413.8,82.1 417.5,80.0 421.2,79.1 424.1,76.6 427.1,73.7 430.7,70.8 433.7,71.2 436.6,69.5 438.9,71.6 441.9,69.0 444.0,66.0 450.0,65.0 458.0,67.0 465.0,68.0 468.5,72.0 470.0,74.0 472.0,74.6 474.5,74.2 476.3,72.5 477.5,69.0 485.0,67.0 490.0,69.0 492.5,73.0 494.5,69.0 500.0,66.0 510.0,67.0 514.5,70.0 516.0,74.3 517.5,70.0 525.0,66.0 540.0,64.0 560.0,66.0 580.0,64.0 602.0,63.2"/></defs>
<use href="#cg" y="-0.8"/>
<use href="#cg" y="0"/>
<use href="#cg" y="0.8"/>
<defs><polyline id="cr" fill="none" stroke="#FF0000" stroke-width="1.35" stroke-linejoin="round" stroke-linecap="butt" points="62.0,250.5 63.7,251.9 73.2,251.9 75.9,253.1 78.4,250.9 86.4,251.2 88.6,250.2 91.6,250.5 94.1,252.1 97.4,251.9 99.6,248.0 102.6,245.5 107.0,245.5 110.7,245.0 114.0,243.6 116.5,246.1 118.4,248.4 120.9,245.8 123.9,243.6 126.1,244.3 127.8,239.9 129.7,243.6 131.5,245.0 133.4,238.4 135.6,232.3 137.8,235.5 140.0,240.0 141.8,246.1 144.4,246.3 146.6,245.0 148.8,247.8 151.0,252.7 152.9,256.4 154.7,253.5 156.9,247.6 159.1,247.6 162.0,243.2 165.7,239.1 167.9,242.4 170.1,251.7 172.0,248.3 175.2,238.0 177.9,234.4 179.6,241.7 181.4,249.8 183.3,246.1 187.0,236.6 190.7,230.7 193.6,228.2 196.5,229.2 198.4,237.6 200.9,234.4 204.6,228.5 207.5,227.0 210.5,227.8 213.4,233.6 216.3,234.4 219.3,235.8 222.9,238.5 225.9,242.1 229.5,240.7 231.5,238.5 232.9,225.2 234.7,212.8 237.6,211.3 241.3,215.7 244.2,212.8 246.4,214.2 247.9,212.0 250.1,214.2 252.3,212.8 254.1,206.2 255.8,197.5 257.2,192.5 259.3,194.8 261.6,196.5 263.9,190.7 266.2,182.6 267.9,176.7 269.8,178.2 272.0,172.3 274.2,165.7 276.7,163.2 278.6,166.4 280.5,167.9 282.6,165.3 284.9,168.6 286.7,175.2 288.5,183.3 290.4,188.5 291.8,192.1 294.0,186.2 296.7,182.6 299.2,187.0 301.4,188.2 303.6,186.7 305.5,185.5 306.5,169.4 307.2,156.5 308.2,146.5 309.5,143.5 311.5,133.5 313.5,137.2 315.4,140.1 318.4,135.0 321.3,137.2 323.5,134.2 325.7,140.1 327.9,143.0 330.1,139.4 332.6,134.2 335.2,132.8 337.9,127.3 340.8,129.8 344.0,132.0 347.0,137.2 349.9,142.3 353.6,149.3 356.5,143.8 359.5,142.3 362.4,145.2 366.1,136.4 369.0,138.6 372.7,137.2 376.3,134.7 380.0,127.9 382.2,133.5 384.6,141.8 387.5,139.0 390.0,136.4 392.5,142.3 395.4,145.2 398.4,144.5 400.6,142.3 403.5,147.4 406.4,150.4 409.4,151.1 412.6,154.8 415.2,151.8 418.2,150.4 421.1,148.9 423.3,146.7 425.8,151.8 428.2,150.4 430.7,151.1 433.6,148.2 436.5,141.6 438.7,146.0 440.9,146.7 443.9,143.8 448.3,142.6 460.0,142.4 467.3,142.4 469.1,139.5 470.6,148.3 473.2,147.6 475.4,144.3 477.6,143.5 479.8,147.6 482.3,149.0 485.0,145.8 489.4,144.6 494.5,143.5 498.9,141.0 503.3,139.1 507.7,138.0 511.4,136.1 515.5,132.2 518.0,134.4 520.5,132.9 523.9,138.0 527.5,143.5 531.9,146.5 536.5,145.8 539.7,141.2 542.4,139.7 545.7,143.0 549.0,144.3 551.7,148.2 554.4,146.1 558.4,146.1 560.5,152.2 563.2,156.3 566.6,155.6 569.3,152.2 572.0,151.6 574.7,154.3 576.7,157.0 579.0,153.6 581.4,154.5 583.5,158.3 586.6,160.4 589.6,156.3 593.0,152.9 596.3,151.6 599.3,150.9 602.0,152.9"/></defs>
<use href="#cr" y="-0.8"/>
<use href="#cr" y="0"/>
<use href="#cr" y="0.8"/>
<defs><polyline id="cb" fill="none" stroke="#0A76F2" stroke-width="1.35" stroke-linejoin="round" stroke-linecap="butt" points="62.0,348.5 65.9,348.7 70.3,347.3 75.4,347.3 79.1,350.2 83.5,350.2 87.9,347.0 90.1,348.7 95.2,347.7 98.5,344.0 101.1,347.7 104.0,344.0 105.5,341.8 107.3,338.5 108.5,344.0 110.7,342.6 114.0,337.4 116.5,341.1 118.7,347.0 120.9,349.6 124.6,347.7 126.1,357.3 128.3,345.5 130.5,338.2 132.7,326.4 134.9,323.5 136.3,326.4 139.3,319.1 141.5,322.8 143.7,316.5 145.2,307.0 145.9,301.1 147.6,290.8 149.5,286.4 151.5,290.1 152.9,287.9 154.7,289.4 157.6,287.2 159.8,283.5 162.8,282.8 165.0,285.7 167.2,283.5 170.8,281.0 173.5,283.5 176.0,280.3 178.5,283.5 180.4,287.2 182.6,296.7 184.8,299.6 188.5,302.6 192.1,301.1 194.6,299.3 197.0,302.6 198.0,288.6 200.2,290.1 203.1,291.6 205.3,297.4 209.0,295.2 211.9,298.9 215.3,304.8 218.6,299.6 222.2,297.4 224.0,296.9 226.9,293.9 228.4,296.1 231.3,289.5 234.0,285.1 236.5,288.8 240.2,293.2 242.4,290.2 244.3,283.6 246.0,286.6 249.7,282.9 251.9,275.6 254.1,266.0 256.6,257.2 258.5,263.1 260.7,277.0 263.3,274.1 266.6,280.0 268.0,270.4 270.2,261.6 271.5,247.0 273.2,240.0 274.5,243.4 275.7,238.5 277.6,239.5 279.6,231.6 282.3,227.2 283.5,232.6 285.6,237.5 287.4,242.4 289.9,246.3 292.3,251.2 295.2,257.2 298.1,257.9 299.6,255.0 301.8,266.0 302.9,270.7 304.0,280.7 305.1,286.8 306.6,292.0 308.1,286.1 310.0,294.9 311.7,303.0 313.5,307.4 315.9,300.0 317.6,305.2 319.8,297.1 321.3,295.6 323.5,303.7 326.4,304.5 328.6,298.6 330.5,295.6 333.0,300.0 335.2,299.3 337.4,294.9 339.6,301.5 342.3,311.8 343.8,303.0 345.8,298.6 348.2,299.3 350.2,303.7 352.6,298.6 354.0,298.6 355.8,289.8 357.6,282.4 359.5,275.8 361.7,278.0 364.6,269.9 368.3,265.1 371.2,272.2 375.6,276.6 377.8,272.2 380.0,264.8 383.7,258.5 385.9,261.4 387.6,259.5 390.0,262.4 392.5,260.2 396.2,264.6 399.1,267.6 401.3,274.2 404.7,275.3 407.2,270.5 410.1,267.6 413.0,272.7 417.4,277.8 420.4,272.7 423.3,276.4 427.0,279.3 429.6,280.0 432.1,277.1 436.5,275.3 440.2,276.4 444.6,274.9 447.5,273.4 460.0,273.7 466.6,273.7 470.3,274.2 474.7,270.0 477.9,268.6 482.0,271.5 486.4,275.2 490.1,275.9 493.0,272.2 498.9,269.8 503.3,270.8 507.0,273.7 510.7,272.2 515.1,269.3 520.2,266.4 524.6,261.2 528.3,257.6 532.7,255.2 535.8,251.4 538.8,251.0 540.8,253.1 544.4,247.5 547.6,250.1 551.7,250.6 556.4,249.3 558.0,255.1 560.5,253.8 564.5,254.2 568.6,258.9 572.6,257.4 576.7,260.5 581.4,256.5 585.5,259.2 588.9,257.8 591.6,256.9 594.3,253.1 597.0,250.1 602.0,247.7"/></defs>
<use href="#cb" y="-0.8"/>
<use href="#cb" y="0"/>
<use href="#cb" y="0.8"/>
<rect x="443.5" y="30.5" width="159" height="41" fill="#fff" stroke="#A87808" stroke-width="1"/>
<g font-family="'Liberation Sans','Noto Sans CJK SC',sans-serif">
<text x="63.4 81.5 99.5 117.2" y="21" font-size="17.5" font-weight="bold" fill="#FF0000">原油价格</text>
<g fill="#161616" font-size="13">
<text x="400 413 426 439" y="26">北京时间</text>
<text x="483" y="26">年</text>
<text x="510.5" y="26">月</text>
<text x="536.5" y="26">日</text>
<text x="565" y="26">时</text>
<text x="593.5" y="26">分</text>
</g>
<g fill="#161616" font-size="11" font-weight="bold">
<text x="453 460 467 474" y="25">2022</text>
<text x="496 503" y="25">10</text>
<text x="522 529" y="25">06</text>
<text x="550 557" y="25">09</text>
<text x="578 585" y="25">03</text>
</g>
<text x="3.1 15.1 27.1 39.1" y="398.2" font-size="12.2" fill="#161616">北京时间</text>
<g fill="#161616" font-size="11" font-weight="bold">
<text x="58 65 73 79 86" y="398">12:00</text>
<text x="147 154 162 168 175" y="398">16:00</text>
<text x="235 242 250 256 263" y="398">20:00</text>
<text x="323 330 338 344 351" y="398">00:00</text>
<text x="411 418 426 432 439" y="398">04:00</text>
<text x="498 505 513 519 526" y="398">08:00</text>
<text x="569 576 584 590 597" y="398">11:59</text>
<text x="30 37 45 51" y="34">89.0</text>
<text x="30 37 45 51" y="77">88.0</text>
<text x="30 37 45 51" y="120">87.0</text>
<text x="30 37 45 51" y="163">86.0</text>
<text x="30 37 45 51" y="206">85.0</text>
<text x="30 37 45 51" y="250">84.0</text>
<text x="30 37 45 51" y="293">83.0</text>
<text x="30 37 45 51" y="336">82.0</text>
<text x="30 37 45 51" y="379">81.0</text>
</g>
</g>
<path fill="#0080FF" d="M447 38h6v1h-6zM447 39h6v1h-6z"/>
<g font-family="'Liberation Sans','Noto Sans CJK SC',sans-serif" fill="#0080FF">
<g font-size="11" font-weight="bold">
<text x="457 464" y="43">10</text>
<text x="481 488" y="43">03</text>
<text x="565 572 580 586 593" y="43">83.34</text>
</g>
<g font-size="12">
<text x="469.5" y="42.7">月</text>
<text x="493.5" y="42.7">日</text>
<text x="513 525 537 549" y="42.7">纽约收盘</text>
</g>
</g>
<path fill="#FF0000" d="M447 51h6v1h-6zM447 52h6v1h-6z"/>
<g font-family="'Liberation Sans','Noto Sans CJK SC',sans-serif" fill="#FF0000">
<g font-size="11" font-weight="bold">
<text x="457 464" y="56">10</text>
<text x="481 488" y="56">04</text>
<text x="565 572 580 586 593" y="56">86.37</text>
</g>
<g font-size="12">
<text x="469.5" y="56">月</text>
<text x="494" y="56">日</text>
<text x="514 526 538 550" y="56">纽约收盘</text>
</g>
</g>
<path fill="#00A800" d="M447 64h6v1h-6zM447 65h6v1h-6z"/>
<g font-family="'Liberation Sans','Noto Sans CJK SC',sans-serif" fill="#00A800">
<g font-size="11" font-weight="bold">
<text x="457 464" y="69">10</text>
<text x="481 488" y="69">05</text>
<text x="563 570 578 584 591" y="69">88.23</text>
</g>
<g font-size="12">
<text x="469.5" y="68.7">月</text>
<text x="494" y="68.7">日</text>
<text x="525 537 549" y="68.7">最新价</text>
</g>
</g>
</svg>
</body></html>
